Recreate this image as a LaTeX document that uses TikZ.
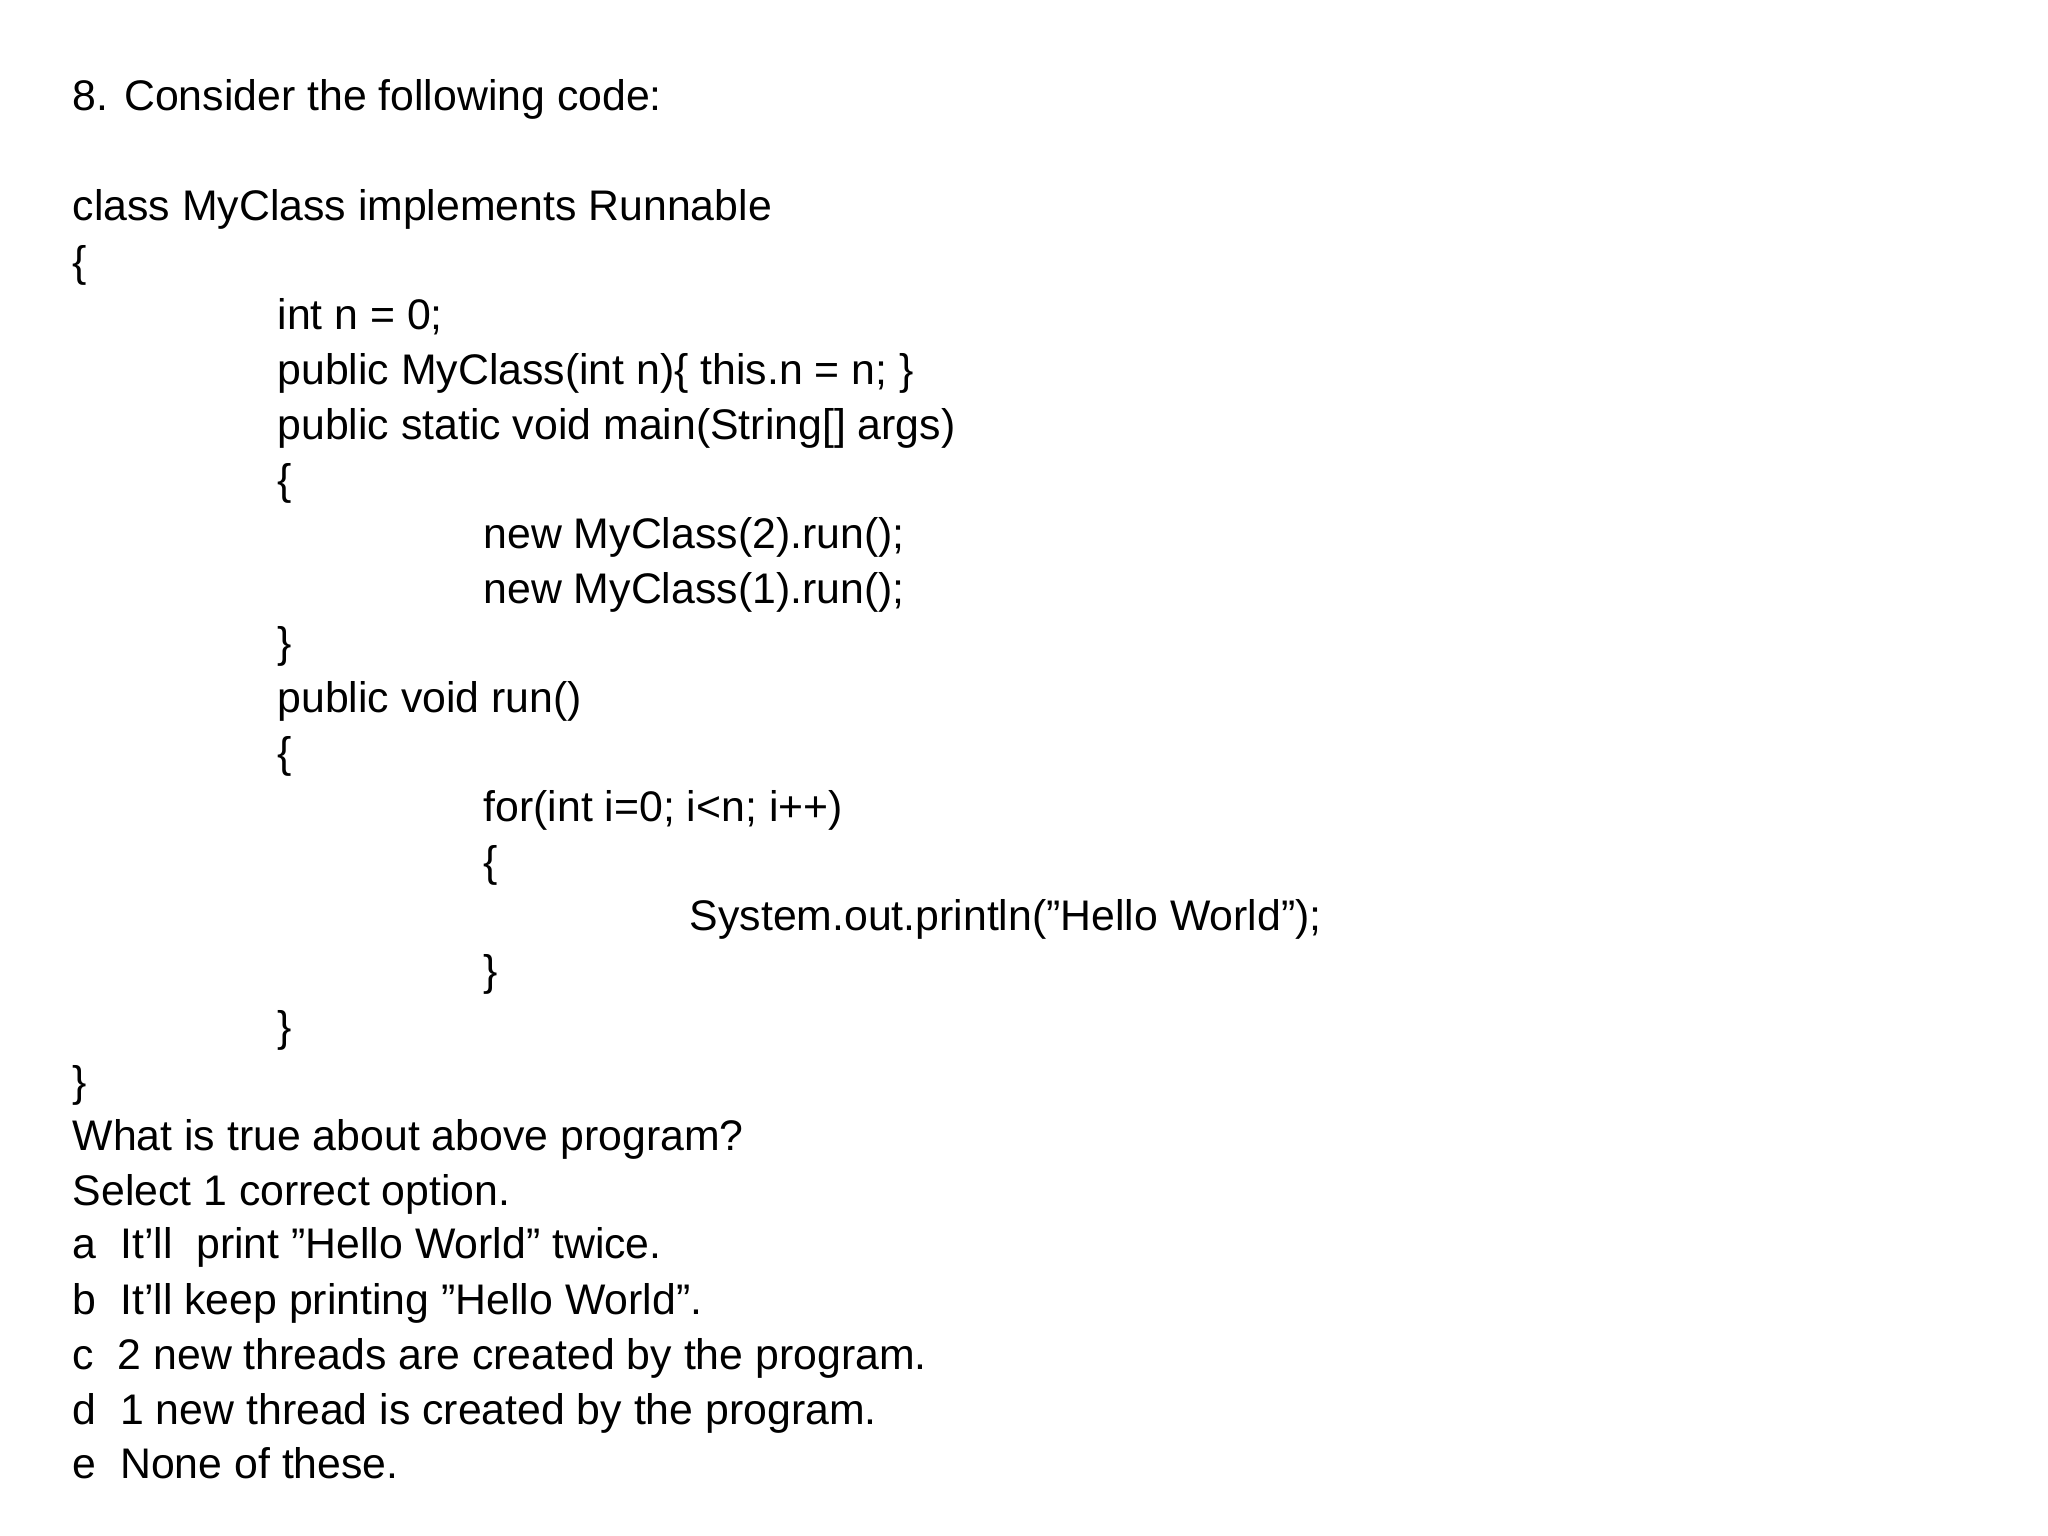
\documentclass[tikz,border=0pt]{standalone}
\usepackage{fontspec}
\setmainfont{Liberation Sans}
\begin{document}
\begin{tikzpicture}[x=0.5pt,y=-0.5pt,
  txt/.style={anchor=base west,inner sep=0pt,font=\fontsize{16.3pt}{20pt}\selectfont}]
\useasboundingbox (0,0) rectangle (1560,1170);
\def\L#1#2#3#4{\node[txt] (#1) at (#2,#3+11) {#4};}
\L{t1}{55}{73}{8. Consider the following code:}
\L{t2}{55}{157}{class MyClass implements Runnable}
\L{t3}{55}{200}{\{}
\L{t4}{211}{240}{int n = 0;}
\L{t5}{211}{282}{public MyClass(int n)\{ this.n = n; \}}
\L{t6}{211}{324}{public static void main(String[] args)}
\L{t7}{211}{366}{\{}
\L{t8}{368}{407}{new MyClass(2).run();}
\L{t9}{368}{449}{new MyClass(1).run();}
\L{t10}{211}{490}{\}}
\L{t11}{211}{532}{public void run()}
\L{t12}{211}{574}{\{}
\L{t13}{368}{615}{for(int i=0; i<n; i++)}
\L{t14}{368}{657}{\{}
\L{t15}{525}{698}{System.out.println("Hello World");}
\L{t16}{368}{740}{\}}
\L{t17}{211}{782}{\}}
\L{t18}{55}{824}{\}}
\L{t19}{55}{865}{What is true about above program?}
\L{t20}{55}{907}{Select 1 correct option.}
\L{t21}{55}{948}{a\ \ It'll\ \ print "Hello World" twice.}
\L{t22}{55}{990}{b\ \ It'll keep printing "Hello World".}
\L{t23}{55}{1032}{c\ \ 2 new threads are created by the program.}
\L{t24}{55}{1074}{d\ \ 1 new thread is created by the program.}
\L{t25}{55}{1115}{e\ \ None of these.}
\end{tikzpicture}
\end{document}
